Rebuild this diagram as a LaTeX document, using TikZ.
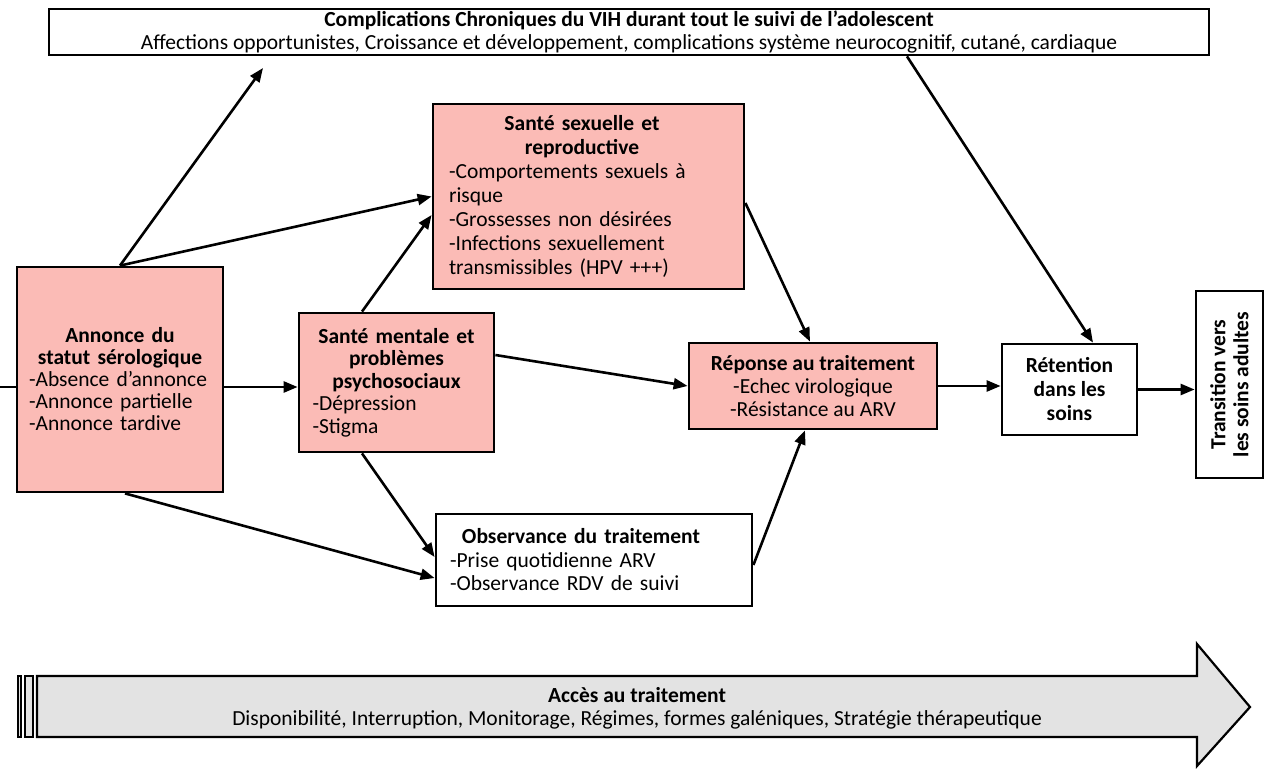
\documentclass[tikz,border=0pt]{standalone}
\usepackage{fontspec}
\setmainfont{Carlito}
\usetikzlibrary{arrows.meta,calc}

\definecolor{rose}{RGB}{251,187,182}
\definecolor{grisfleche}{RGB}{227,227,227}

\begin{document}
\begin{tikzpicture}[x=1pt,y=-1pt,
    boite/.style={draw,line width=2.8pt,fill=white,inner sep=0pt,font=\fontsize{21.5}{23}\selectfont},
    rouge/.style={boite,fill=rose},
    fl/.style={line width=2.6pt,-{Triangle[length=14pt,width=11pt]}}]
    \useasboundingbox (0,0) rectangle (1272,773);

    % Boites
    \node[boite,minimum width=1160,minimum height=46,align=center] (compl) at (629,32)
        {\textbf{Complications Chroniques du VIH durant tout le suivi de l’adolescent}\\
         Affections opportunistes, Croissance et développement, complications système neurocognitif, cutané, cardiaque};
    \node[rouge,minimum width=206,minimum height=225,text width=182,align=left,
          font=\fontsize{21.5}{22}\selectfont] (annonce) at (120,379.5)
        {{\centering\bfseries Annonce du\\ statut sérologique\par}
         -Absence d’annonce\\-Annonce partielle\\-Annonce tardive};
    \node[rouge,minimum width=195,minimum height=139,text width=168,align=left,
          font=\fontsize{21.5}{22.5}\selectfont] (mentale) at (396.5,382.5)
        {{\centering\bfseries Santé mentale et\\ problèmes\\ psychosociaux\par}
         -Dépression\\-Stigma};
    \node[rouge,minimum width=311,minimum height=185,text width=279,align=left,
          font=\fontsize{21.5}{24}\selectfont] (sexuelle) at (588.5,196.5)
        {{\centering\rightskip=13pt plus 1fil\bfseries Santé sexuelle et\\ reproductive\par}
         -Comportements sexuels à\\ risque\\-Grossesses non désirées\\-Infections sexuellement\\ transmissibles (HPV +++)};
    \node[rouge,minimum width=248,minimum height=86,align=center] (reponse) at (813,386)
        {\textbf{Réponse au traitement}\\-Echec virologique\\-Résistance au ARV};
    \node[boite,minimum width=316,minimum height=92,text width=288,align=left,
          font=\fontsize{21.5}{23.5}\selectfont] (observance) at (594,560)
        {{\centering\rightskip=26pt plus 1fil\bfseries Observance du traitement\par}
         -Prise quotidienne ARV\\-Observance RDV de suivi};
    \node[boite,minimum width=135,minimum height=91,align=center,font=\fontsize{21.5}{24}\bfseries] (retention) at (1069.5,389.5)
        {Rétention\\dans les\\soins};
    \node[boite,rotate=90,minimum width=187,minimum height=67,align=center,font=\fontsize{21.5}{23}\bfseries] (transition) at (1229.5,384.5)
        {Transition vers\\les soins adultes};

    \coordinate (entree) at (0,387);
    \coordinate (versCompl) at (263,68);

    % Fleches
    \draw[line width=2.6pt] (entree) -- (entree -| annonce.west);
    \draw[fl] (annonce.north) -- (versCompl);
    \draw[fl] (annonce.north) -- (sexuelle.west);
    \draw[fl] (annonce.east |- entree) -- (entree -| mentale.west);
    \draw[fl] ([xshift=5]annonce.south) -- ([yshift=-18]observance.west);
    \draw[fl] ([xshift=-34.5]mentale.north) -- ([yshift=-18.5]sexuelle.west);
    \draw[fl] ([xshift=-34.5]mentale.south) -- ([yshift=3]observance.west);
    \draw[fl] ([yshift=27.5]mentale.east) -- (reponse.west);
    \draw[fl] ([yshift=-6.5]sexuelle.east) -- ([xshift=-3]reponse.north);
    \draw[fl] ([yshift=-5]observance.east) -- ([xshift=-8]reponse.south);
    \draw[fl] ([xshift=278]compl.south) -- ([xshift=23.5]retention.north);
    \draw[fl] (reponse.east) -- (reponse.east -| retention.west);
    \draw[fl] (retention.east) -- (retention.east -| transition.north);

    % Acces au traitement
    \draw[line width=2.2pt,fill=grisfleche] (18,676) rectangle (21,737);
    \draw[line width=2.2pt,fill=grisfleche] (25,676) rectangle (33,737);
    \draw[line width=2.2pt,fill=grisfleche,line join=miter]
        (37,676) -- (1197,676) -- (1197,644) -- (1250,707) -- (1197,766) -- (1197,737) -- (37,737) -- cycle;
    \node[align=center,font=\fontsize{21.5}{23}\selectfont] (acces) at (637,708)
        {\textbf{Accès au traitement}\\
         Disponibilité, Interruption, Monitorage, Régimes, formes galéniques, Stratégie thérapeutique};
\end{tikzpicture}
\end{document}
